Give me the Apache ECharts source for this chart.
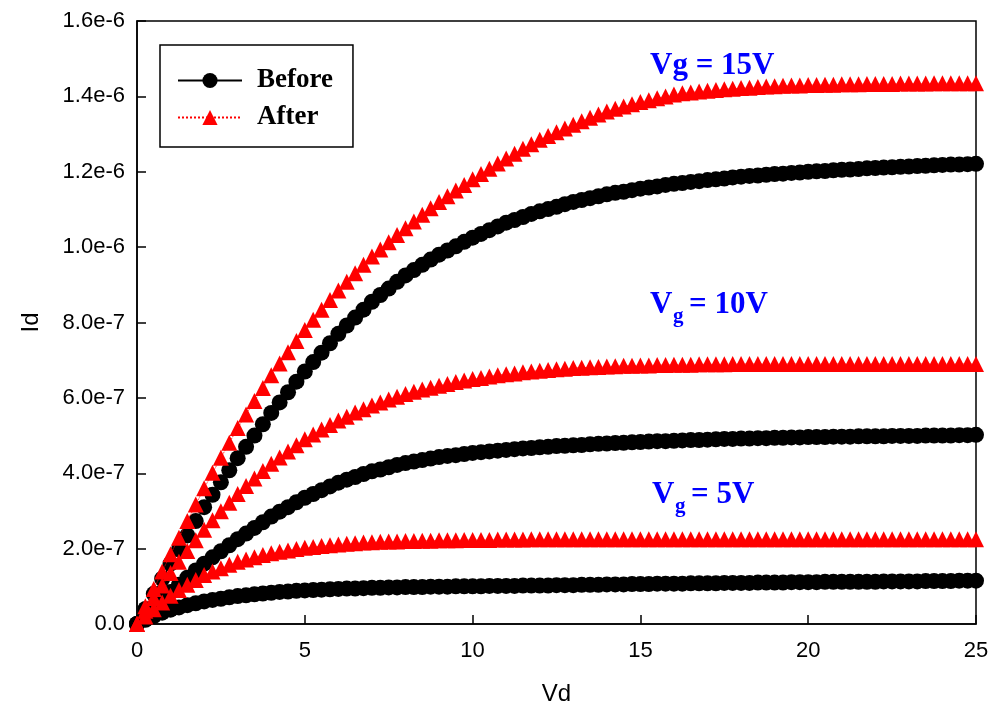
<!DOCTYPE html>
<html>
<head>
<meta charset="utf-8">
<script src="https://cdn.jsdelivr.net/npm/echarts@6/dist/echarts.min.js"></script>
<style>html,body{margin:0;padding:0;background:#fff;}#chart{width:992px;height:717px;}</style>
</head>
<body>
<div id="chart"></div>
<script>
// Drain voltage (V)
const vd = [0,
 0.25,0.5,0.75,1, 1.25,1.5,1.75,2, 2.25,2.5,2.75,3, 3.25,3.5,3.75,4, 4.25,4.5,4.75,5,
 5.25,5.5,5.75,6, 6.25,6.5,6.75,7, 7.25,7.5,7.75,8, 8.25,8.5,8.75,9, 9.25,9.5,9.75,10,
 10.25,10.5,10.75,11, 11.25,11.5,11.75,12, 12.25,12.5,12.75,13, 13.25,13.5,13.75,14, 14.25,14.5,14.75,15,
 15.25,15.5,15.75,16, 16.25,16.5,16.75,17, 17.25,17.5,17.75,18, 18.25,18.5,18.75,19, 19.25,19.5,19.75,20,
 20.25,20.5,20.75,21, 21.25,21.5,21.75,22, 22.25,22.5,22.75,23, 23.25,23.5,23.75,24, 24.25,24.5,24.75,25];

// Drain current, in units of 1e-7 A
const before15 = [0,
 0.4,0.8,1.2,1.6, 1.98,2.35,2.73,3.1, 3.43,3.76,4.08,4.4, 4.7,5.0,5.3,5.6, 5.88,6.15,6.43,6.7,
 6.95,7.2,7.45,7.7, 7.92,8.13,8.34,8.55, 8.73,8.9,9.08,9.25, 9.39,9.53,9.67,9.8, 9.91,10.02,10.14,10.25,
 10.35,10.45,10.55,10.65, 10.72,10.8,10.88,10.95, 11.01,11.07,11.14,11.2, 11.25,11.3,11.35,11.4, 11.44,11.47,11.51,11.55,
 11.58,11.61,11.65,11.68, 11.7,11.73,11.75,11.78, 11.8,11.82,11.85,11.87, 11.89,11.9,11.92,11.94, 11.95,11.97,11.98,12.0,
 12.01,12.02,12.04,12.05, 12.06,12.07,12.09,12.1, 12.11,12.12,12.13,12.14, 12.15,12.16,12.17,12.18, 12.19,12.19,12.2,12.21];

const after15 = [0,
 0.47,0.93,1.39,1.85, 2.29,2.73,3.17,3.6, 4.01,4.41,4.81,5.2, 5.56,5.92,6.26,6.6, 6.91,7.21,7.51,7.8,
 8.07,8.34,8.6,8.85, 9.08,9.31,9.53,9.75, 9.94,10.13,10.32,10.5, 10.68,10.86,11.03,11.2, 11.35,11.5,11.65,11.8,
 11.94,12.08,12.22,12.35, 12.48,12.61,12.73,12.85, 12.95,13.05,13.15,13.25, 13.34,13.43,13.52,13.6, 13.67,13.73,13.79,13.85,
 13.9,13.95,14.0,14.05, 14.08,14.1,14.13,14.15, 14.17,14.19,14.2,14.22, 14.23,14.25,14.26,14.27, 14.28,14.29,14.29,14.3,
 14.3,14.31,14.31,14.32, 14.32,14.32,14.33,14.33, 14.33,14.33,14.34,14.34, 14.34,14.34,14.35,14.35, 14.35,14.35,14.35,14.35];

const before10 = [0,
 0.22,0.43,0.64,0.85, 1.04,1.23,1.42,1.6, 1.77,1.93,2.09,2.25, 2.4,2.55,2.7,2.85, 2.98,3.1,3.23,3.35,
 3.45,3.55,3.65,3.75, 3.83,3.9,3.98,4.05, 4.1,4.16,4.22,4.27, 4.31,4.35,4.39,4.43, 4.46,4.48,4.51,4.54,
 4.56,4.58,4.6,4.62, 4.64,4.66,4.67,4.69, 4.7,4.72,4.73,4.74, 4.75,4.77,4.78,4.79, 4.8,4.81,4.82,4.83,
 4.84,4.85,4.85,4.86, 4.87,4.88,4.88,4.89, 4.9,4.91,4.91,4.92, 4.92,4.93,4.93,4.94, 4.94,4.95,4.95,4.96,
 4.96,4.96,4.97,4.97, 4.97,4.98,4.98,4.98, 4.98,4.99,4.99,4.99, 4.99,5.0,5.0,5.0, 5.0,5.01,5.01,5.02];

const after10 = [0,
 0.35,0.69,1.02,1.35, 1.65,1.94,2.22,2.5, 2.75,2.99,3.22,3.45, 3.66,3.86,4.06,4.25, 4.42,4.58,4.74,4.9,
 5.03,5.16,5.28,5.4, 5.5,5.61,5.7,5.8, 5.88,5.96,6.03,6.1, 6.16,6.22,6.27,6.32, 6.37,6.42,6.46,6.5,
 6.53,6.57,6.6,6.63, 6.65,6.68,6.7,6.72, 6.74,6.76,6.77,6.79, 6.8,6.81,6.82,6.83, 6.84,6.85,6.85,6.86,
 6.86,6.87,6.87,6.88, 6.88,6.88,6.89,6.89, 6.89,6.89,6.9,6.9, 6.9,6.9,6.9,6.9, 6.9,6.9,6.9,6.9,
 6.9,6.9,6.9,6.9, 6.9,6.9,6.9,6.9, 6.9,6.9,6.9,6.9, 6.9,6.9,6.9,6.9, 6.9,6.9,6.9,6.9];

const before5 = [0,
 0.11,0.21,0.3,0.38, 0.44,0.5,0.55,0.6, 0.64,0.67,0.71,0.74, 0.76,0.79,0.81,0.83, 0.85,0.86,0.88,0.89,
 0.9,0.91,0.92,0.93, 0.94,0.94,0.95,0.96, 0.96,0.97,0.97,0.98, 0.98,0.98,0.99,0.99, 0.99,1.0,1.0,1.0,
 1.0,1.01,1.01,1.01, 1.01,1.02,1.02,1.02, 1.02,1.03,1.03,1.03, 1.04,1.04,1.04,1.05, 1.05,1.05,1.06,1.06,
 1.06,1.07,1.07,1.07, 1.07,1.08,1.08,1.08, 1.08,1.09,1.09,1.09, 1.09,1.1,1.1,1.1, 1.1,1.11,1.11,1.11,
 1.11,1.12,1.12,1.12, 1.12,1.12,1.12,1.12, 1.13,1.13,1.13,1.13, 1.13,1.14,1.14,1.14, 1.14,1.15,1.15,1.15];

const after5 = [0,
 0.2,0.39,0.57,0.75, 0.9,1.04,1.17,1.3, 1.39,1.48,1.57,1.65, 1.71,1.77,1.83,1.88, 1.92,1.95,1.99,2.02,
 2.04,2.07,2.09,2.11, 2.13,2.14,2.16,2.17, 2.18,2.19,2.19,2.2, 2.2,2.21,2.21,2.22, 2.22,2.22,2.23,2.23,
 2.23,2.23,2.24,2.24, 2.24,2.24,2.25,2.25, 2.25,2.25,2.25,2.25, 2.25,2.25,2.25,2.25, 2.25,2.25,2.25,2.25,
 2.25,2.25,2.25,2.25, 2.25,2.25,2.25,2.25, 2.25,2.25,2.25,2.25, 2.25,2.25,2.25,2.25, 2.25,2.25,2.25,2.25,
 2.25,2.25,2.25,2.25, 2.25,2.25,2.25,2.25, 2.25,2.25,2.25,2.25, 2.25,2.25,2.25,2.25, 2.25,2.25,2.25,2.25];

const xTicks = [0, 5, 10, 15, 20, 25];
const yUnit = 1e-7;

const pairs = arr => vd.map((x, i) => [x, arr[i]]);

const chart = echarts.init(document.getElementById('chart'), null, {renderer: 'canvas'});

function beforeSeries(arr) {
  return {
    name: 'Before', type: 'line', data: pairs(arr),
    symbol: 'circle', symbolSize: 16, showAllSymbol: true,
    itemStyle: {color: '#000'},
    lineStyle: {color: '#000', width: 1.5, type: 'solid'},
    z: 2
  };
}
function afterSeries(arr) {
  return {
    name: 'After', type: 'line', data: pairs(arr),
    symbol: 'triangle', symbolSize: 16, showAllSymbol: true,
    itemStyle: {color: '#ff0000'},
    lineStyle: {color: '#ff0000', width: 1, type: 'dotted'},
    z: 3
  };
}

const serif = 'Liberation Serif';
const sans = 'Liberation Sans';
const blue = '#0000ff';

function label(x, y, text, size) {
  return {type: 'text', x: x, y: y, z: 100,
    style: {text: text, fill: blue, font: 'bold ' + size + 'px "' + serif + '"', verticalAlign: 'middle', align: 'left'}};
}

const option = {
  animation: false,
  backgroundColor: '#fff',
  grid: {left: 137, right: 16, top: 21, bottom: 93, show: true, borderColor: '#000', borderWidth: 1.5, backgroundColor: 'transparent'},
  xAxis: {
    type: 'value', min: 0, max: 25, interval: 5,
    name: 'Vd', nameLocation: 'middle', nameGap: 58,
    nameTextStyle: {fontFamily: sans, fontSize: 24, color: '#000'},
    axisLine: {show: true, lineStyle: {color: '#000', width: 1.5}},
    axisTick: {show: true, inside: true, length: 9, lineStyle: {color: '#000', width: 1.5}},
    axisLabel: {fontFamily: sans, fontSize: 22, color: '#000', margin: 16},
    splitLine: {show: false}
  },
  yAxis: {
    type: 'value', min: 0, max: 16, interval: 2,
    name: 'Id', nameLocation: 'middle', nameGap: 94,
    nameTextStyle: {fontFamily: sans, fontSize: 24, color: '#000'},
    axisLine: {show: true, lineStyle: {color: '#000', width: 1.5}},
    axisTick: {show: true, inside: true, length: 9, lineStyle: {color: '#000', width: 1.5}},
    axisLabel: {fontFamily: sans, fontSize: 22, color: '#000', margin: 12,
      formatter: v => v === 0 ? '0.0' : (v * yUnit).toExponential(1)},
    splitLine: {show: false}
  },
  legend: {
    data: ['Before', 'After'],
    orient: 'vertical', left: 160, top: 45,
    padding: [22, 20, 16, 17],
    itemWidth: 64, itemHeight: 19, itemGap: 10,
    borderColor: '#000', borderWidth: 1.5,
    textStyle: {fontFamily: serif, fontWeight: 'bold', fontSize: 27, color: '#000', padding: [0, 0, 0, 10]}
  },
  graphic: [
    label(650, 66, 'Vg = 15V', 31),
    label(650, 305, 'V', 31), label(673, 317, 'g', 21), label(689, 305, '= 10V', 31),
    label(652, 495, 'V', 31), label(675, 507, 'g', 21), label(691, 495, '= 5V', 31)
  ],
  series: [
    beforeSeries(before15), beforeSeries(before10), beforeSeries(before5),
    afterSeries(after15), afterSeries(after10), afterSeries(after5)
  ]
};
chart.setOption(option);
</script>
</body>
</html>
